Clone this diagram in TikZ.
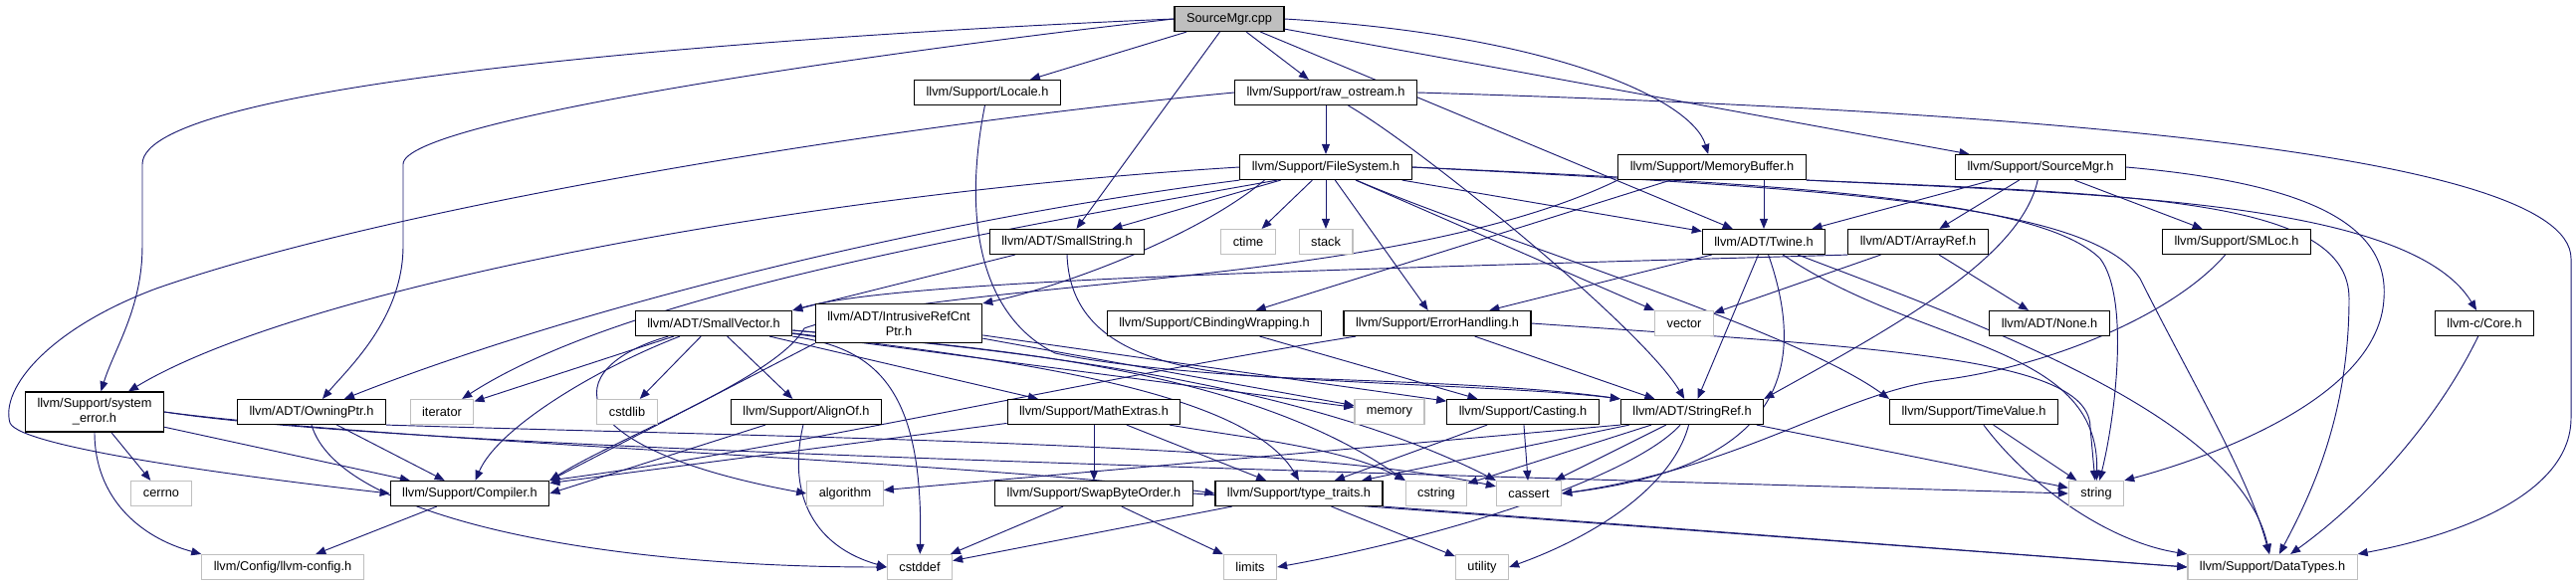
\documentclass[tikz,border=0pt]{standalone}
\usepackage{fontspec}
\setmainfont{Liberation Sans}
\usetikzlibrary{arrows.meta}
\definecolor{edgeblue}{HTML}{191970}
\definecolor{boxgray}{HTML}{BFBFBF}
\pgfdeclarelayer{edges}
\pgfsetlayers{edges,main}

\begin{document}
\begin{tikzpicture}[x=0.03cm, y=-0.03cm,
  font=\fontsize{10.9}{12.8}\selectfont,
  hdr/.style={draw=black, line width=1pt, fill=white, inner xsep=0.36cm, inner ysep=0pt, minimum height=0.75cm, align=center},
  sys/.style={hdr, draw=boxgray},
  root/.style={hdr, fill=boxgray},
  dep/.style={draw=edgeblue, line width=0.8pt, -{Triangle[length=0.3cm, width=0.24cm]}}]

\useasboundingbox (0,0) rectangle (2588,589);

% Rows of headers
\node[root] (cpp) at (1235,19) {SourceMgr.cpp};

\node[hdr] (locale) at (992,93) {llvm/Support/Locale.h};
\node[hdr] (rawos) at (1332,93) {llvm/Support/raw\_ostream.h};

\node[hdr] (filesys) at (1332,168) {llvm/Support/FileSystem.h};
\node[hdr] (membuf) at (1720,168) {llvm/Support/MemoryBuffer.h};
\node[hdr] (srcmgrh) at (2050,168) {llvm/Support/SourceMgr.h};

\node[hdr] (smallstr) at (1072,243) {llvm/ADT/SmallString.h};
\node[sys] (ctime) at (1254,243) {ctime};
\node[sys] (stack) at (1332,243) {stack};
\node[hdr] (twine) at (1772,243) {llvm/ADT/Twine.h};
\node[hdr] (arrayref) at (1927,243) {llvm/ADT/ArrayRef.h};
\node[hdr] (smloc) at (2247,243) {llvm/Support/SMLoc.h};

\node[hdr] (smallvec) at (717,325) {llvm/ADT/SmallVector.h};
\node[hdr, minimum height=1.17cm] (intrusive) at (903,325) {llvm/ADT/IntrusiveRefCnt\\Ptr.h};
\node[hdr] (cbinding) at (1220,325) {llvm/Support/CBindingWrapping.h};
\node[hdr] (errhand) at (1444,325) {llvm/Support/ErrorHandling.h};
\node[sys] (vector) at (1692,325) {vector};
\node[hdr] (none) at (2059,325) {llvm/ADT/None.h};
\node[hdr] (core) at (2496,325) {llvm-c/Core.h};

\node[hdr, minimum height=1.2cm] (syserr) at (95,414) {llvm/Support/system\\\_error.h};
\node[hdr] (owning) at (313,414) {llvm/ADT/OwningPtr.h};
\node[sys] (iterator) at (444,414) {iterator};
\node[sys] (cstdlib) at (630,414) {cstdlib};
\node[hdr] (alignof) at (810,414) {llvm/Support/AlignOf.h};
\node[hdr] (mathext) at (1099,414) {llvm/Support/MathExtras.h};
\node[sys] (memory) at (1396,414) {memory};
\node[hdr] (casting) at (1530,414) {llvm/Support/Casting.h};
\node[hdr] (stringref) at (1700,414) {llvm/ADT/StringRef.h};
\node[hdr] (timeval) at (1983,414) {llvm/Support/TimeValue.h};

\node[sys] (cerrno) at (162,496) {cerrno};
\node[hdr] (compiler) at (472,496) {llvm/Support/Compiler.h};
\node[sys] (algorithm) at (849,496) {algorithm};
\node[hdr] (swapbyte) at (1099,496) {llvm/Support/SwapByteOrder.h};
\node[hdr] (typetr) at (1305,496) {llvm/Support/type\_traits.h};
\node[sys] (cstring) at (1443,496) {cstring};
\node[sys] (cassert) at (1536,496) {cassert};
\node[sys] (string) at (2106,496) {string};

\node[sys] (llvmcfg) at (284,570) {llvm/Config/llvm-config.h};
\node[sys] (cstddef) at (924,570) {cstddef};
\node[sys] (limits) at (1256,570) {limits};
\node[sys] (utility) at (1489,570) {utility};
\node[sys] (datatypes) at (2283,570) {llvm/Support/DataTypes.h};

\begin{pgfonlayer}{edges}
% SourceMgr.cpp
\draw[dep] (cpp) -- (locale);
\draw[dep] (cpp) -- (rawos);
\draw[dep] (cpp) -- (smallstr);
\draw[dep] (cpp) -- (twine);
\draw[dep] (cpp) -- (srcmgrh);
\draw[dep] (cpp.east) .. controls (1560,35) and (1700,100) .. (membuf);
\draw[dep] (cpp.west) .. controls (800,35) and (143,80) .. (143,165) -- (143,247) .. controls (143,310) and (115,350) .. (syserr);
\draw[dep] (cpp.west) .. controls (900,50) and (405,120) .. (405,165) -- (405,247) .. controls (405,320) and (350,370) .. (owning);

% raw_ostream.h
\draw[dep] (rawos) -- (filesys);
\draw[dep] (rawos) .. controls (1430,150) and (1650,330) .. (stringref);
\draw[dep] (rawos.west) .. controls (900,125) and (400,205) .. (157,290) .. controls (50,330) and (0,390) .. (10,425) .. controls (20,450) and (250,480) .. (compiler.west);
\draw[dep] (rawos.east) .. controls (2000,110) and (2583,150) .. (2583,260) -- (2583,420) .. controls (2583,500) and (2460,540) .. (datatypes.north east);

% Locale.h
\draw[dep] (locale) .. controls (965,230) and (990,320) .. (1060,355) .. controls (1200,385) and (1500,385) .. (stringref.north west);

% FileSystem.h
\draw[dep] (filesys.west) .. controls (800,195) and (300,290) .. (syserr);
\draw[dep] (filesys.south west) .. controls (900,225) and (550,320) .. (owning);
\draw[dep] (filesys.195) .. controls (950,240) and (620,300) .. (iterator);
\draw[dep] (filesys) -- (smallstr);
\draw[dep] (filesys.192) .. controls (1200,240) and (1060,290) .. (intrusive.north east);
\draw[dep] (filesys) -- (ctime);
\draw[dep] (filesys) -- (stack);
\draw[dep] (filesys) -- (twine);
\draw[dep] (filesys) -- (errhand);
\draw[dep] (filesys) .. controls (1500,240) and (1800,330) .. (timeval.north west);
\draw[dep] (filesys) -- (vector);
\draw[dep] (filesys.east) .. controls (1800,185) and (2050,200) .. (2110,260) .. controls (2140,300) and (2125,420) .. (string);
\draw[dep] (filesys.east) .. controls (1850,190) and (2100,205) .. (2150,280) .. controls (2200,380) and (2260,480) .. (datatypes);

% MemoryBuffer.h
\draw[dep] (membuf.south -| twine) -- (twine);
\draw[dep] (membuf) -- (cbinding);
\draw[dep] (membuf.south west) .. controls (1400,290) and (950,280) .. (808,330) .. controls (780,380) and (620,440) .. (compiler.north east);
\draw[dep] (membuf.south east) .. controls (2150,195) and (2360,200) .. (2360,300) .. controls (2360,420) and (2320,500) .. (datatypes);
\draw[dep] (membuf.south east) .. controls (2100,195) and (2420,200) .. (core);

% SourceMgr.h
\draw[dep] (srcmgrh) -- (twine);
\draw[dep] (srcmgrh) -- (arrayref);
\draw[dep] (srcmgrh) .. controls (2030,260) and (1900,330) .. (stringref.north east);
\draw[dep] (srcmgrh) -- (smloc);
\draw[dep] (srcmgrh.east) .. controls (2330,185) and (2400,230) .. (2395,300) .. controls (2390,400) and (2220,460) .. (string.north east);

% SmallString.h, Twine.h
\draw[dep] (smallstr) -- (smallvec.north east);
\draw[dep] (smallstr.south) .. controls (1075,340) and (1150,375) .. (1300,380) .. controls (1450,385) and (1550,390) .. (stringref.north west);
\draw[dep] (twine) -- (stringref);
\draw[dep] (twine) -- (errhand);
\draw[dep] (twine) .. controls (2000,330) and (2250,420) .. (datatypes);
\draw[dep] (twine) .. controls (1820,380) and (1780,470) .. (cassert.east);
\draw[dep] (twine) .. controls (1930,350) and (2110,345) .. (string);

% ArrayRef.h, SMLoc.h, Core.h
\draw[dep] (arrayref) -- (none);
\draw[dep] (arrayref.south west) .. controls (1300,272) and (900,282) .. (smallvec.north east);
\draw[dep] (arrayref) -- (vector);
\draw[dep] (smloc) .. controls (2180,320) and (2050,370) .. (1950,382) .. controls (1850,395) and (1750,470) .. (cassert.east);
\draw[dep] (core) .. controls (2450,420) and (2380,500) .. (datatypes);

% SmallVector.h
\draw[dep] (smallvec) -- (iterator);
\draw[dep] (smallvec) .. controls (600,370) and (500,430) .. (compiler);
\draw[dep] (smallvec) .. controls (560,370) and (560,450) .. (algorithm.west);
\draw[dep] (smallvec) -- (cstdlib);
\draw[dep] (smallvec) -- (alignof);
\draw[dep] (smallvec) -- (mathext);
\draw[dep] (smallvec) .. controls (1000,360) and (1250,390) .. (typetr.north);
\draw[dep] (smallvec) .. controls (1000,350) and (1300,380) .. (cassert.north west);
\draw[dep] (smallvec) .. controls (1000,350) and (1250,370) .. (cstring.north west);
\draw[dep] (smallvec) -- (memory);
\draw[dep] (smallvec.south east) .. controls (880,350) and (928,390) .. (cstddef);

% IntrusiveRefCntPtr.h, CBindingWrapping.h, ErrorHandling.h
\draw[dep] (intrusive) -- (casting);
\draw[dep] (intrusive.south west) -- (compiler.north east);
\draw[dep] (intrusive) -- (memory);
\draw[dep] (cbinding) -- (casting);
\draw[dep] (errhand) -- (stringref);
\draw[dep] (errhand) .. controls (1100,380) and (800,450) .. (compiler.north east);
\draw[dep] (errhand.east) .. controls (1900,350) and (2100,360) .. (2100,430) -- (string);

% system_error.h, OwningPtr.h
\draw[dep] (syserr) -- (compiler);
\draw[dep] (syserr) -- (cerrno);
\draw[dep] (syserr.south) .. controls (95,500) and (140,540) .. (llvmcfg.north west);
\draw[dep] (syserr.east) .. controls (400,445) and (1000,465) .. (typetr.west);
\draw[dep] (syserr.east) .. controls (400,450) and (1200,470) .. (string.west);
\draw[dep] (owning) -- (compiler);
\draw[dep] (owning.south east) .. controls (800,440) and (1300,445) .. (cassert);
\draw[dep] (owning.south) .. controls (340,520) and (600,570) .. (cstddef.west);

% AlignOf.h, MathExtras.h
\draw[dep] (alignof) -- (compiler.east);
\draw[dep] (alignof) .. controls (790,500) and (820,550) .. (cstddef.west);
\draw[dep] (mathext) -- (compiler);
\draw[dep] (mathext) -- (swapbyte);
\draw[dep] (mathext) -- (typetr);
\draw[dep] (mathext) .. controls (1250,440) and (1350,450) .. (cstring.north west);

% Casting.h, StringRef.h, TimeValue.h
\draw[dep] (casting) -- (typetr);
\draw[dep] (casting) -- (cassert);
\draw[dep] (stringref) -- (typetr);
\draw[dep] (stringref.south west) -- (algorithm);
\draw[dep] (stringref) -- (cassert);
\draw[dep] (stringref) -- (cstring);
\draw[dep] (stringref) .. controls (1640,480) and (1450,540) .. (limits.east);
\draw[dep] (stringref) -- (string);
\draw[dep] (stringref) .. controls (1680,490) and (1600,540) .. (utility.east);
\draw[dep] (timeval) -- (string);
\draw[dep] (timeval) .. controls (2040,490) and (2120,545) .. (datatypes.north west);

% Compiler.h, SwapByteOrder.h, type_traits.h
\draw[dep] (compiler) -- (llvmcfg);
\draw[dep] (swapbyte) -- (cstddef);
\draw[dep] (swapbyte) -- (limits);
\draw[dep] (swapbyte.east) -- (datatypes.west);
\draw[dep] (typetr) -- (cstddef);
\draw[dep] (typetr) -- (utility);
\draw[dep] (typetr.south east) -- (datatypes.west);
\end{pgfonlayer}

\end{tikzpicture}
\end{document}
